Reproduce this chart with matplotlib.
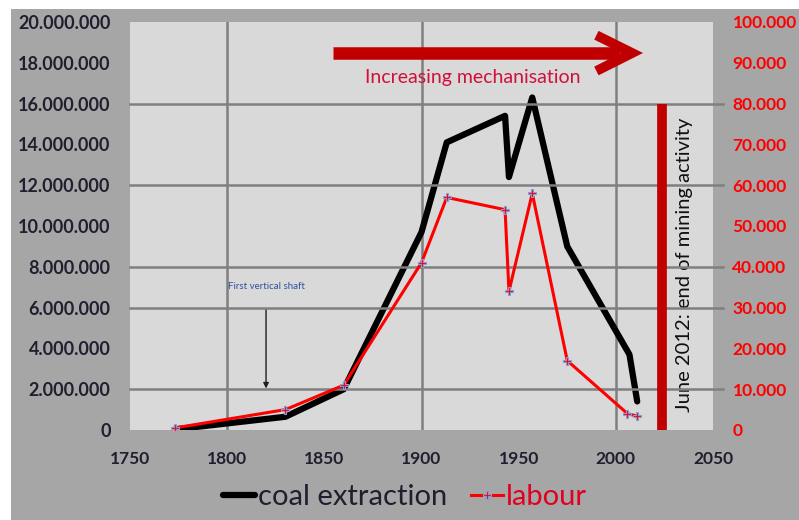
import matplotlib
matplotlib.use("Agg")
import matplotlib.pyplot as plt
from matplotlib.patches import Rectangle

plt.rcParams['font.family'] = ['Lato', 'DejaVu Sans']

# data
coal_years = [1775, 1830, 1860, 1900, 1913, 1943, 1945, 1957, 1975, 2007, 2011]
coal_values = [50000, 650000, 2000000, 9700000, 14100000, 15400000, 12400000, 16300000, 9000000, 3700000, 1400000]
labour_years = [1773, 1830, 1860, 1900, 1913, 1943, 1945, 1957, 1975, 2006, 2011]
labour_values = [500, 5000, 11000, 41000, 57000, 54000, 34000, 58000, 17000, 4000, 3400]
x_ticks = [1750, 1800, 1850, 1900, 1950, 2000, 2050]
left_ticks = list(range(0, 20000001, 2000000))
right_ticks = list(range(0, 100001, 10000))
grid_right = [10000, 30000, 40000, 60000, 80000]
grid_years = [1800, 1900, 2000]

def fmt(v):
    return f"{v:,}".replace(",", ".")

fig = plt.figure(figsize=(7.99, 5.2), dpi=100, facecolor='white')
fig.patches.append(Rectangle((11/799, 0), 1 - 11/799, 1 - 9/520, transform=fig.transFigure,
                             facecolor='#A6A6A6', edgecolor='none', zorder=-10))

ax = fig.add_axes([130/799, 1 - 430/520, 583/799, 408/520])
ax.set_facecolor('#D9D9D9')
ax2 = ax.twinx()
for a in (ax, ax2):
    for s in a.spines.values():
        s.set_visible(False)

ax.set_xlim(1750, 2050)
ax.set_ylim(0, 20000000)
ax2.set_ylim(0, 100000)

ax.set_xticks(x_ticks)
ax.set_xticklabels([str(t) for t in x_ticks], fontsize=12.5, fontweight='bold', color='#1F1F2F')
ax.set_yticks(left_ticks)
ax.set_yticklabels([fmt(t) for t in left_ticks], fontsize=13, fontweight='bold', color='#1F1F2F')
ax2.set_yticks(right_ticks)
ax2.set_yticklabels([fmt(t) for t in right_ticks], fontsize=12.5, fontweight='bold', color='#FF0000')
ax.tick_params(axis='y', length=0, pad=14)
ax.tick_params(axis='x', length=0, pad=15)
ax2.tick_params(axis='y', length=0, pad=14)

for g in grid_right:
    ax2.plot([1750, 2055], [g, g], color='#7F7F7F', lw=1.8, zorder=1, clip_on=False)
for gy in grid_years:
    ax.axvline(gy, color='#7F7F7F', lw=1.8, zorder=1)

ax.plot(coal_years, coal_values, color='black', lw=4.5, solid_capstyle='round',
        solid_joinstyle='round', zorder=3, label='coal extraction')
ax2.plot(labour_years, labour_values, color='#FF0000', lw=2.2, marker='P', ms=6,
         mfc='#FF0000', mec='#7FA0E0', mew=0.8, zorder=4, label='labour')

# end of mining line
ax2.plot([2024, 2024], [0, 80000], color='#C00000', lw=7, solid_capstyle='butt', zorder=3)
ax.text(2035.5, 8100000, 'June 2012: end of mining activity', rotation=90, ha='center', va='center',
        fontsize=14.5, color='#101010')

# mechanisation arrow
ax.plot([1854.5, 2002], [18480000, 18480000], color='#C00000', lw=9, solid_capstyle='butt', clip_on=False)
ax.plot([1990, 2008.4, 1990], [19350000, 18480000, 17600000], color='#C00000', lw=7,
        solid_capstyle='butt', solid_joinstyle='miter', clip_on=False)
ax.text(1926.3, 17300000, 'Increasing mechanisation', ha='center', va='center', fontsize=14,
        color='#D0103A')

# first vertical shaft
ax.text(1820, 7050000, 'First vertical shaft', ha='center', va='center', fontsize=7, color='#3050A0')
ax.annotate('', xy=(1820, 1900000), xytext=(1820, 6050000),
            arrowprops=dict(arrowstyle='-|>', color='#202020', lw=1, mutation_scale=8))

h1, l1 = ax.get_legend_handles_labels()
h2, l2 = ax2.get_legend_handles_labels()
leg = fig.legend(h1 + h2, l1 + l2, loc='center', bbox_to_anchor=(405/799, 1 - 497/520), ncol=2,
                 frameon=False, fontsize=21, handlelength=1.1, handletextpad=0.1, columnspacing=0.8)
leg.get_texts()[0].set_color('#1F1F2F')
leg.get_texts()[1].set_color('#E00020')

fig.savefig('out.png', dpi=100, facecolor=fig.get_facecolor())
